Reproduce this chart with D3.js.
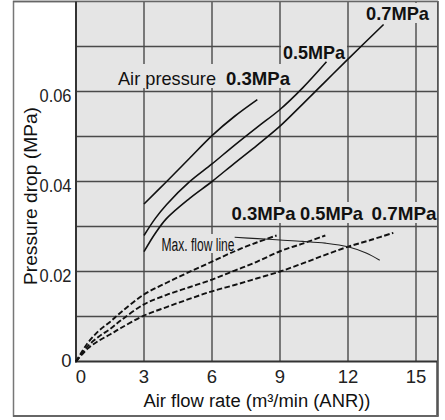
<!DOCTYPE html>
<html><head><meta charset="utf-8">
<script src="https://cdn.jsdelivr.net/npm/d3@7"></script>
<style>body{margin:0;background:#fff}svg{display:block}</style>
</head><body>
<svg id="c" width="445" height="420"></svg>
<script>
// ---- data ----
const xTicks = [0, 3, 6, 9, 12, 15];
const yTicks = [0, 0.02, 0.04, 0.06];
const yGrid = [0.01, 0.02, 0.03, 0.04, 0.05, 0.06, 0.07];
const xGrid = [3, 6, 9, 12, 15];
const pressures = ["0.3MPa", "0.5MPa", "0.7MPa"];
// Pressure drop curves (solid) : [flow, drop]
const drop03 = [[3,0.035],[4,0.040],[5,0.0451],[6,0.0502],[7,0.0545],[8,0.0582]];
const drop05 = [[3,0.028],[3.5,0.0318],[4,0.0349],[5,0.0399],[6,0.0439],[7,0.0481],[8,0.0521],[9,0.056],[10,0.0608],[11.05,0.0666]];
const drop07 = [[3,0.0244],[3.5,0.0285],[4,0.0318],[5,0.0362],[6,0.040],[7,0.0441],[8,0.0481],[9,0.0523],[10,0.0572],[11,0.0622],[12,0.0672],[13.57,0.0749]];
// dashed curves
const dash03 = [[0,0],[0.5,0.004],[1,0.0068],[1.5,0.0088],[2,0.011],[3,0.0149],[4,0.0175],[5,0.0199],[6,0.0222],[7,0.0245],[8,0.0265],[8.85,0.028]];
const dash05 = [[0,0],[0.5,0.0033],[1,0.0055],[1.5,0.0072],[2,0.0092],[3,0.0127],[4,0.0148],[5,0.0165],[6,0.0182],[7,0.0202],[8,0.0222],[9,0.0245],[10,0.0262],[11,0.028]];
const dash07 = [[0,0],[0.5,0.0028],[1,0.0046],[1.5,0.006],[2,0.0075],[3,0.0102],[4,0.0121],[5,0.0139],[6,0.0156],[7,0.017],[8,0.0185],[9,0.02],[10,0.0218],[11,0.0237],[12,0.0255],[13,0.027],[14,0.0286]];
const maxFlow = [[7.0,0.0276],[8,0.0273],[9,0.027],[10,0.0267],[11,0.0263],[12,0.0255],[12.8,0.0241],[13.4,0.0225]];

// ---- layout ----
const svg = d3.select("#c");
const x = d3.scaleLinear().domain([0, 15]).range([76, 416]);
const y = d3.scaleLinear().domain([0, 0.08]).range([361.5, 1.5]);
const plotL = 76, plotR = 437, plotT = 1.5, plotB = 361.5;
const bg = "#e5e5e5";
const font = "'Liberation Sans', Arial, sans-serif";

// outer frame
svg.append("rect").attr("x",13.5).attr("y",1.5).attr("width",424).attr("height",414.5)
  .attr("fill","#fff").attr("stroke","#777").attr("stroke-width",1.5);
svg.append("line").attr("x1",437.5).attr("x2",437.5).attr("y1",1).attr("y2",416.5).attr("stroke","#555").attr("stroke-width",2.5);
svg.append("line").attr("x1",13).attr("x2",438.5).attr("y1",416).attr("y2",416).attr("stroke","#666").attr("stroke-width",2);

// plot bg
svg.append("rect").attr("x",plotL).attr("y",plotT).attr("width",plotR-plotL).attr("height",plotB-plotT).attr("fill",bg);

// grid
const g = svg.append("g").attr("stroke","#4a4a4a").attr("stroke-width",1.4);
g.selectAll(".vx").data(xGrid).join("line")
  .attr("x1",d=>x(d)).attr("x2",d=>x(d)).attr("y1",plotT).attr("y2",plotB);
g.selectAll(".hy").data(yGrid).join("line")
  .attr("x1",plotL).attr("x2",plotR).attr("y1",d=>y(d)).attr("y2",d=>y(d));

// label masks
const masks = [[116,64,176,24],[281,42,66,19],[364,3,67,20],[229,202,208,21],[160,234,77,19]];
svg.selectAll(".mask").data(masks).join("rect")
  .attr("x",d=>d[0]).attr("y",d=>d[1]).attr("width",d=>d[2]).attr("height",d=>d[3]).attr("fill",bg);

// top border of plot
svg.append("line").attr("x1",13).attr("x2",438).attr("y1",1.5).attr("y2",1.5).attr("stroke","#666").attr("stroke-width",1.5);

// axes
svg.append("line").attr("x1",plotL).attr("x2",plotL).attr("y1",plotT).attr("y2",plotB+1).attr("stroke","#333").attr("stroke-width",2);
svg.append("line").attr("x1",plotL-1).attr("x2",plotR).attr("y1",plotB).attr("y2",plotB).attr("stroke","#333").attr("stroke-width",2);

// curves
const line = d3.line().x(d=>x(d[0])).y(d=>y(d[1])).curve(d3.curveCatmullRom.alpha(0.5));
[drop03, drop05, drop07].forEach(s=>{
  svg.append("path").attr("d",line(s)).attr("fill","none").attr("stroke","#111").attr("stroke-width",1.6);
});
[dash03, dash05, dash07].forEach(s=>{
  svg.append("path").attr("d",line(s)).attr("fill","none").attr("stroke","#111").attr("stroke-width",1.9).attr("stroke-dasharray","5.5,2.5");
});
svg.append("path").attr("d",line(maxFlow)).attr("fill","none").attr("stroke","#222").attr("stroke-width",1.1);

// tick labels
svg.selectAll(".xt").data(xTicks).join("text")
  .attr("x",d=>x(d) + (d===0?5:0)).attr("y",383)
  .attr("text-anchor","middle").attr("font-family",font).attr("font-size",18.5).attr("fill","#222")
  .text(d=>d);
svg.selectAll(".yt").data(yTicks).join("text")
  .attr("x",71.5).attr("y",d=>y(d)+(d===0?5.5:10))
  .attr("text-anchor","end").attr("font-family",font).attr("font-size",18.5).attr("fill","#222")
  .attr("textLength",d=>d===0?null:32).attr("lengthAdjust","spacingAndGlyphs")
  .text(d=>d===0?"0":d.toFixed(2));

// axis titles
svg.append("text").attr("x",143.5).attr("y",407).attr("font-family",font).attr("font-size",18).attr("fill","#111")
  .attr("textLength",227).attr("lengthAdjust","spacingAndGlyphs")
  .text("Air flow rate (m³/min (ANR))");
svg.append("text").attr("transform","translate(37,196) rotate(-90)").attr("text-anchor","middle")
  .attr("font-family",font).attr("font-size",19).attr("fill","#111")
  .attr("textLength",178).attr("lengthAdjust","spacingAndGlyphs")
  .text("Pressure drop (MPa)");

// annotations
const bold = [[pressures[2],366,20,63],[pressures[1],283,58.5,62],[pressures[0],226,85,64],
              [pressures[0],231.5,220,64],[pressures[1],300,220,63],[pressures[2],371.5,220,65]];
svg.selectAll(".bl").data(bold).join("text")
  .attr("x",d=>d[1]).attr("y",d=>d[2]).attr("font-family",font).attr("font-weight","bold")
  .attr("font-size",19).attr("fill","#111").attr("textLength",d=>d[3]).attr("lengthAdjust","spacingAndGlyphs")
  .text(d=>d[0]);
svg.append("text").attr("x",118).attr("y",85).attr("font-family",font).attr("font-size",18.5).attr("fill","#111")
  .attr("textLength",98).attr("lengthAdjust","spacingAndGlyphs").text("Air pressure");
svg.append("text").attr("x",161.5).attr("y",251).attr("font-family",font).attr("font-size",18).attr("fill","#111")
  .attr("textLength",73).attr("lengthAdjust","spacingAndGlyphs").text("Max. flow line");
</script>
</body></html>
